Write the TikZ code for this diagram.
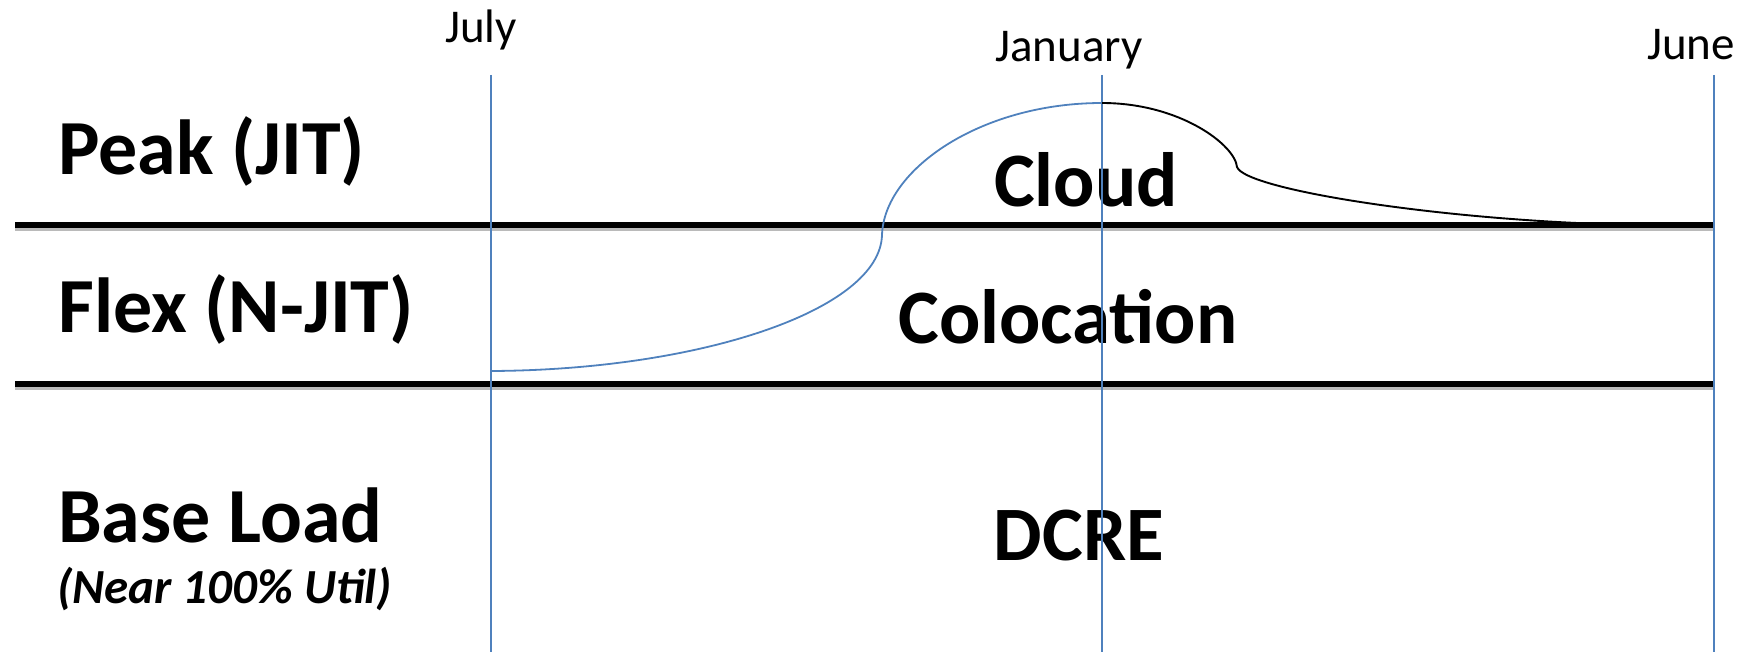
\documentclass[tikz,border=0pt]{standalone}
\usepackage{fontspec}
\setmainfont{Carlito}
\definecolor{officeblue}{HTML}{4F81BD}

\begin{document}
\begin{tikzpicture}[x=1pt,y=-1pt,
  month/.style={anchor=base,inner sep=0pt,font=\fontsize{47}{56}\selectfont},
  tier/.style={anchor=base west,inner sep=0pt,font=\fontsize{78}{92}\selectfont\bfseries},
  zone/.style={anchor=base,inner sep=0pt,font=\fontsize{77}{92}\selectfont\bfseries},
  monthline/.style={officeblue,line width=1.5pt},
  tierline/.style={black,line width=5.5pt},
  tiershadow/.style={black!45,line width=5pt,opacity=0.6},
  demand/.style={officeblue,line width=1.8pt},
  tail/.style={black,line width=1.9pt}]
\useasboundingbox (0,0) rectangle (1747,652);
% month labels
\node[month] (jul) at (481,43) {July};
\node[month] (jan) at (1069,62) {January};
\node[month] (jun) at (1691,60) {June};
% tier labels
\node[tier] (peak) at (58,175) {Peak (JIT)};
\node[tier] (flex) at (58,332) {Flex (N-JIT)};
\node[tier] (base) at (58,542) {Base Load};
\node[anchor=base west,inner sep=0pt,font=\fontsize{49}{58}\selectfont\bfseries\itshape] (util) at (57,603) {(Near 100\% Util)};
% zones
\node[zone] (cloud) at (1086,207) {Cloud};
\node[zone] (coloc) at (1068,343) {Colocation};
\node[zone] (dcre) at (1079,560) {DCRE};
% tier boundaries
\coordinate (t1l) at (15,225);
\coordinate (t1r) at (1714,225);
\coordinate (t2l) at (15,384);
\coordinate (t2r) at (1714,384);
\draw[tiershadow] ([yshift=-3.5pt]t1l) -- ([yshift=-3.5pt]t1r);
\draw[tiershadow] ([yshift=-3.5pt]t2l) -- ([yshift=-3.5pt]t2r);
\draw[tierline] (t1l) -- (t1r);
\draw[tierline] (t2l) -- (t2r);
% month lines
\coordinate (julT) at (491,75);
\coordinate (janT) at (1102,75);
\coordinate (junT) at (1714,75);
\draw[monthline] (julT) -- (julT |- 0,652);
\draw[monthline] (janT) -- (janT |- 0,652);
\draw[monthline] (junT) -- (junT |- 0,652);
% demand curve
\coordinate (start) at (491,371);
\coordinate (rise) at (882,235);
\coordinate (top) at (1102,103);
\coordinate (cusp) at (1237,167);
\coordinate (flat) at (1640,225);
\draw[demand] (start) .. controls (700,370) and (880,310) .. (rise)
  .. controls (884,170) and (980,103) .. (top);
\draw[tail] (top) .. controls (1180,103) and (1235,145) .. (cusp)
  .. controls (1245,190) and (1450,222) .. (flat);
\end{tikzpicture}
\end{document}
